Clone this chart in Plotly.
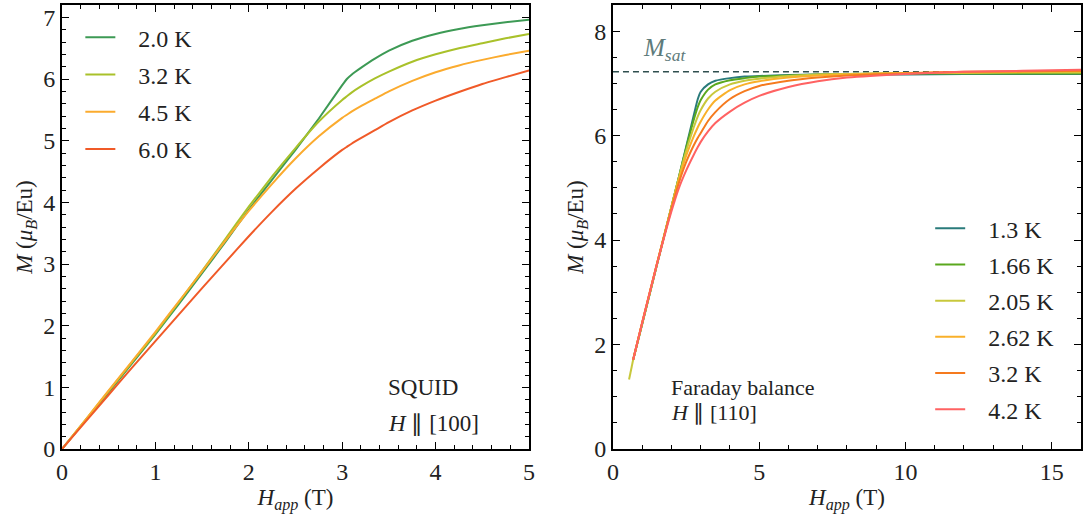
import plotly.graph_objects as go

# ---------------- Left panel: SQUID, H || [100] ----------------
H_left = [0, 0.25, 0.5, 0.75, 1.0, 1.25, 1.5, 1.75, 2.0, 2.25, 2.5, 2.75, 3.0, 3.05, 3.1, 3.2, 3.35,
          3.5, 3.75, 4.0, 4.25, 4.5, 4.75, 5.0]
M_20K = [0, 0.46, 0.92, 1.39, 1.86, 2.35, 2.85, 3.36, 3.88, 4.37, 4.85, 5.36, 5.90, 6.00, 6.07, 6.18, 6.33,
         6.46, 6.62, 6.73, 6.81, 6.87, 6.92, 6.96]
M_32K = [0, 0.47, 0.94, 1.41, 1.88, 2.38, 2.89, 3.41, 3.93, 4.42, 4.88, 5.31, 5.66, 5.72, 5.78, 5.88, 6.01,
         6.12, 6.28, 6.40, 6.50, 6.58, 6.66, 6.73]
M_45K = [0, 0.47, 0.95, 1.42, 1.90, 2.39, 2.88, 3.38, 3.86, 4.30, 4.71, 5.07, 5.37, 5.42, 5.47, 5.56, 5.68,
         5.80, 5.97, 6.11, 6.22, 6.31, 6.39, 6.46]
M_60K = [0, 0.44, 0.88, 1.32, 1.75, 2.18, 2.61, 3.03, 3.45, 3.85, 4.22, 4.55, 4.85, 4.90, 4.95, 5.04, 5.17,
         5.30, 5.49, 5.65, 5.79, 5.92, 6.03, 6.14]
left_labels = ["2.0 K", "3.2 K", "4.5 K", "6.0 K"]
left_colors = ["#3d9a55", "#a9c12a", "#fbab2e", "#f05a28"]
left_series = [M_20K, M_32K, M_45K, M_60K]

# ---------------- Right panel: Faraday balance, H || [110] ----------------
H_right = [0.69, 1.0, 1.5, 2.0, 2.25, 2.5, 2.75, 2.9, 3.0, 3.25, 3.5, 4.0, 4.5, 5.0, 6.0, 7.0, 8.0, 10.0,
           12.0, 14.0, 16.0]
M_13K = [1.71, 2.40, 3.52, 4.64, 5.20, 5.78, 6.36, 6.70, 6.84, 6.98, 7.05, 7.10, 7.13, 7.14, 7.16, 7.17, 7.17,
         7.17, 7.18, 7.18, 7.18]
M_166K = [1.71, 2.40, 3.52, 4.64, 5.20, 5.76, 6.28, 6.55, 6.68, 6.88, 6.98, 7.06, 7.10, 7.13, 7.15, 7.17, 7.18,
          7.19, 7.19, 7.19, 7.19]
M_205K = [1.71, 2.41, 3.53, 4.64, 5.19, 5.70, 6.14, 6.37, 6.49, 6.71, 6.84, 6.98, 7.05, 7.09, 7.14, 7.17, 7.18,
          7.20, 7.20, 7.21, 7.21]
M_262K = [1.71, 2.42, 3.54, 4.63, 5.16, 5.61, 5.97, 6.16, 6.27, 6.50, 6.67, 6.87, 6.98, 7.04, 7.11, 7.15, 7.17,
          7.20, 7.21, 7.22, 7.23]
M_32K_r = [1.71, 2.42, 3.54, 4.60, 5.09, 5.49, 5.80, 5.96, 6.05, 6.28, 6.45, 6.70, 6.85, 6.95, 7.05, 7.11, 7.15,
           7.19, 7.22, 7.23, 7.24]
M_42K = [1.71, 2.42, 3.53, 4.55, 4.99, 5.33, 5.62, 5.78, 5.88, 6.08, 6.24, 6.46, 6.63, 6.76, 6.93, 7.04, 7.11,
         7.18, 7.22, 7.24, 7.26]
right_labels = ["1.3 K", "1.66 K", "2.05 K", "2.62 K", "3.2 K", "4.2 K"]
right_colors = ["#2a7b7b", "#5aa81e", "#c8c83c", "#f9b02a", "#f57a1e", "#ff6262"]
right_series = [M_13K, M_166K, M_205K, M_262K, M_32K_r, M_42K]
# the 2.05 K run starts at a lower field
H_205_low = [0.55, 0.69]
M_205_low = [1.33, 1.71]

M_sat = 7.22
H_sat_span = [0, 16]

FONT = "Liberation Serif"
NB = "\u00a0\u00a0\u00a0"

fig = go.Figure()

for lab, col, ys in zip(left_labels, left_colors, left_series):
    fig.add_trace(go.Scatter(x=H_left, y=ys, mode="lines", name=NB + lab,
                             line=dict(color=col, width=2, shape="spline", smoothing=0.5),
                             xaxis="x", yaxis="y", legend="legend", legendgroup=lab))

fig.add_trace(go.Scatter(x=H_sat_span, y=[M_sat, M_sat], mode="lines", showlegend=False,
                         line=dict(color="#2f4f4f", width=1.5, dash="6px,4px"), xaxis="x2", yaxis="y2"))

fig.add_trace(go.Scatter(x=H_205_low, y=M_205_low, mode="lines", showlegend=False,
                         line=dict(color=right_colors[2], width=2), xaxis="x2", yaxis="y2"))

for lab, col, ys in zip(right_labels, right_colors, right_series):
    fig.add_trace(go.Scatter(x=H_right, y=ys, mode="lines", name=NB + lab,
                             line=dict(color=col, width=2, shape="spline", smoothing=0.6),
                             xaxis="x2", yaxis="y2", legend="legend2", legendgroup="r" + lab))

axis_common = dict(showline=True, linecolor="black", linewidth=2, mirror="ticks", ticks="inside",
                   ticklen=7, tickwidth=1.2, tickcolor="black", showgrid=False, zeroline=False,
                   automargin=False,
                   tickfont=dict(family=FONT, size=24, color="#222"),
                   title_font=dict(family=FONT, size=23, color="#222"))

fig.update_layout(
    width=1083, height=517,
    margin=dict(l=62, r=2, t=5, b=68),
    paper_bgcolor="white", plot_bgcolor="white",
    font=dict(family=FONT, size=22, color="#222"),
    xaxis=dict(domain=[0, 0.4583], range=[0, 5], dtick=1, tick0=0, anchor="y",
               minor=dict(ticks="inside", dtick=0.2, ticklen=4, tickcolor="black"),
               title=dict(text="<i>H<sub>app</sub></i> (T)", standoff=5), **axis_common),
    yaxis=dict(domain=[0, 1], range=[0, 7.2], dtick=1, tick0=0, anchor="x",
               minor=dict(ticks="inside", dtick=0.2, ticklen=4, tickcolor="black"),
               title=dict(text="<i>M</i> (<i>μ<sub>B</sub></i>/Eu)", standoff=4), **axis_common),
    xaxis2=dict(domain=[0.5407, 1], range=[0, 16], dtick=5, tick0=0, anchor="y2",
                minor=dict(ticks="inside", dtick=1, ticklen=4, tickcolor="black"),
                title=dict(text="<i>H<sub>app</sub></i> (T)", standoff=5), **axis_common),
    yaxis2=dict(domain=[0, 1], range=[0, 8.5], dtick=2, tick0=0, anchor="x2",
                minor=dict(ticks="inside", dtick=0.5, ticklen=4, tickcolor="black"),
                title=dict(text="<i>M</i> (<i>μ<sub>B</sub></i>/Eu)", standoff=4), **axis_common),
    legend=dict(x=0.018, y=0.977, xanchor="left", yanchor="top", bgcolor="rgba(0,0,0,0)",
                font=dict(family=FONT, size=24, color="#222"), traceorder="grouped", tracegroupgap=3),
    legend2=dict(x=0.852, y=0.547, xanchor="left", yanchor="top", bgcolor="rgba(0,0,0,0)",
                 font=dict(family=FONT, size=24, color="#222"), traceorder="grouped", tracegroupgap=2),
    showlegend=True,
    annotations=[
        dict(text="SQUID", xref="x", yref="y", x=3.47, y=0.99, xanchor="left",
             yanchor="middle", showarrow=False, font=dict(family=FONT, size=23, color="#222")),
        dict(text="<i>H</i> ∥ [100]", xref="x", yref="y", x=3.47, y=0.42, xanchor="left",
             yanchor="middle", showarrow=False, font=dict(family=FONT, size=23, color="#222")),
        dict(text="Faraday balance", xref="x2", yref="y2", x=1.93, y=1.17, xanchor="left",
             yanchor="middle", showarrow=False, font=dict(family=FONT, size=22, color="#222")),
        dict(text="<i>H</i> ∥ [110]", xref="x2", yref="y2", x=1.93, y=0.69, xanchor="left",
             yanchor="middle", showarrow=False, font=dict(family=FONT, size=22, color="#222")),
        dict(text="<i>M<sub>sat</sub></i>", xref="x2", yref="y2", x=0.95, y=7.64, xanchor="left",
             yanchor="middle", showarrow=False, font=dict(family=FONT, size=25, color="#5e7b7b")),
    ],
)

fig.write_html("out.html", config={"displayModeBar": False},
               post_script="document.body.style.margin='0px';")
